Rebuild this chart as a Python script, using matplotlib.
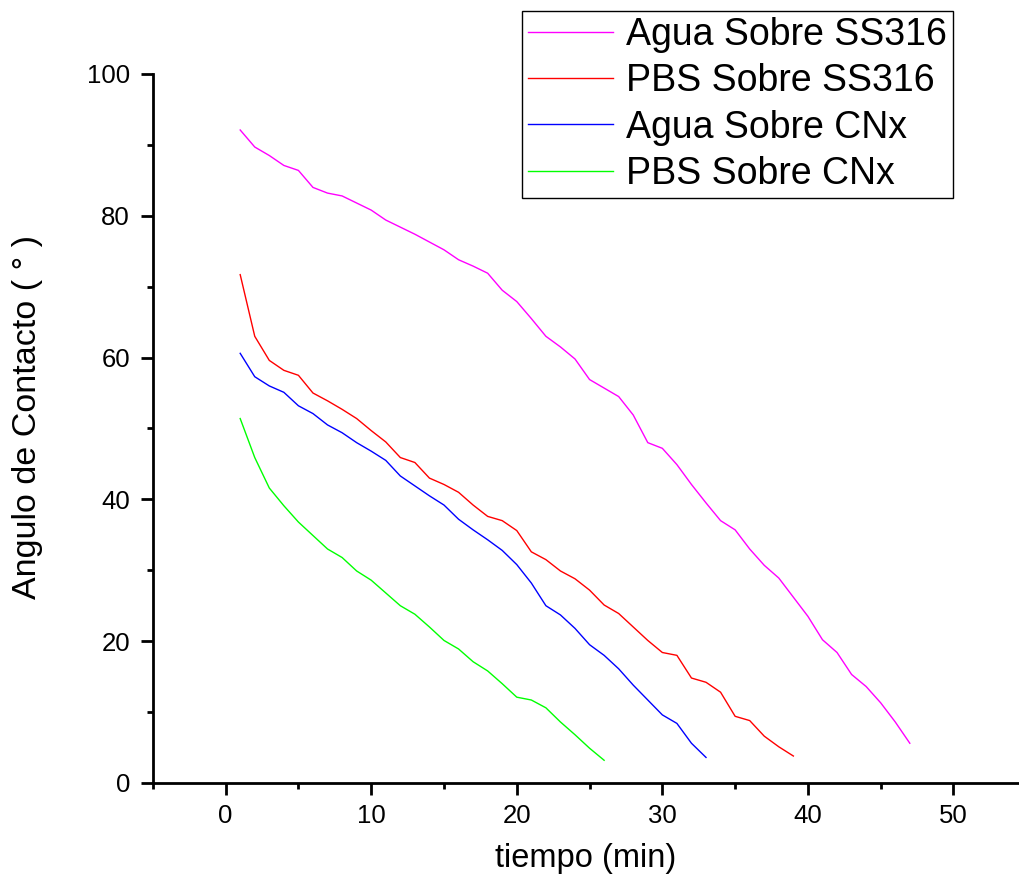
import numpy as np
import matplotlib
matplotlib.use("Agg")
import matplotlib.pyplot as plt
from matplotlib.ticker import MultipleLocator

plt.rcParams['font.family'] = ['Liberation Sans', 'DejaVu Sans']

# angulo de contacto vs tiempo
agua_ss316 = [92.1, 89.7, 88.5, 87.1, 86.4, 84.0, 83.2, 82.8, 81.8, 80.8,
              79.4, 78.4, 77.4, 76.3, 75.2, 73.8, 72.9, 71.9, 69.5, 67.9,
              65.5, 63.0, 61.5, 59.8, 56.9, 55.7, 54.5, 51.9, 48.0, 47.2,
              44.9, 42.1, 39.5, 37.0, 35.7, 33.0, 30.7, 28.9, 26.2, 23.5,
              20.2, 18.4, 15.3, 13.6, 11.3, 8.6, 5.6]
pbs_ss316 = [71.7, 63.0, 59.6, 58.2, 57.5, 55.0, 53.9, 52.7, 51.4, 49.7,
             48.1, 45.9, 45.2, 43.0, 42.1, 41.0, 39.2, 37.6, 37.0, 35.6,
             32.6, 31.5, 29.9, 28.8, 27.2, 25.1, 23.9, 22.0, 20.1, 18.4,
             18.0, 14.8, 14.2, 12.8, 9.4, 8.8, 6.6, 5.1, 3.8]
agua_cnx = [60.6, 57.3, 56.0, 55.1, 53.2, 52.1, 50.5, 49.4, 48.0, 46.8,
            45.5, 43.3, 41.9, 40.5, 39.2, 37.2, 35.7, 34.3, 32.8, 30.8,
            28.2, 25.0, 23.7, 21.8, 19.5, 18.0, 16.1, 13.8, 11.7, 9.6,
            8.4, 5.6, 3.6]
pbs_cnx = [51.4, 45.9, 41.6, 39.1, 36.8, 34.9, 33.0, 31.8, 29.9, 28.6,
           26.8, 25.0, 23.8, 22.0, 20.1, 18.9, 17.1, 15.8, 14.0, 12.1,
           11.7, 10.6, 8.6, 6.8, 4.9, 3.2]

series = [
    (agua_ss316, "Agua Sobre SS316", "#ff00ff"),
    (pbs_ss316, "PBS Sobre SS316", "#ff0000"),
    (agua_cnx, "Agua Sobre CNx", "#0000ff"),
    (pbs_cnx, "PBS Sobre CNx", "#00ff00"),
]

fig = plt.figure(figsize=(10.19, 8.84), dpi=100)
ax = fig.add_axes([0.150, 0.1143, 0.850, 0.802])

for y, lab, col in series:
    t = np.arange(1, len(y) + 1)
    ax.plot(t, y, color=col, lw=1.0, label=lab)

ax.set_xlim(-5, 54.5)
ax.set_ylim(0, 100)
ax.xaxis.set_major_locator(MultipleLocator(10))
ax.xaxis.set_minor_locator(MultipleLocator(5))
ax.yaxis.set_major_locator(MultipleLocator(20))
ax.yaxis.set_minor_locator(MultipleLocator(10))
ax.set_xticks([0, 10, 20, 30, 40, 50])

for s in ['top', 'right']:
    ax.spines[s].set_visible(False)
for s in ['left', 'bottom']:
    ax.spines[s].set_linewidth(2)

ax.tick_params(which='major', length=8.5, width=2, labelsize=18.5)
ax.tick_params(axis='x', which='major', pad=6.5)
ax.tick_params(axis='y', which='major', pad=8)
ax.tick_params(which='minor', length=4.3, width=2)

ax.set_xlabel("tiempo (min)", fontsize=23.5)
ax.set_ylabel("Angulo de Contacto ( ° )", fontsize=24.5)
ax.xaxis.set_label_coords(0.5, -0.085)
ax.yaxis.set_label_coords(-0.127, 0.516)

leg = fig.legend(loc='upper right', bbox_to_anchor=(0.9352, 0.9876),
                 fontsize=27, frameon=True, fancybox=False, shadow=False,
                 handlelength=2.25, handletextpad=0.35, labelspacing=0.27,
                 borderpad=0.17, borderaxespad=0)
leg.get_frame().set_edgecolor('black')
leg.get_frame().set_linewidth(1.0)
leg.get_frame().set_alpha(None)

fig.savefig("out.png", dpi=100)
